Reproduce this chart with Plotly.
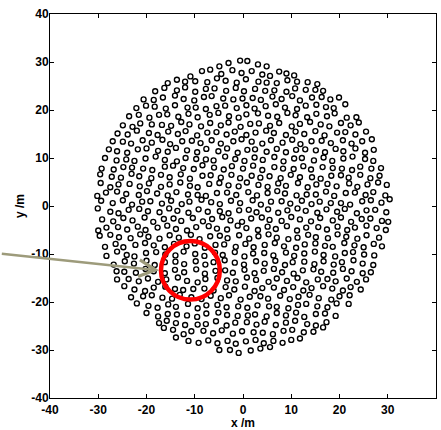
import plotly.graph_objects as go

# Field unit positions in metres, one inner list per row (north to south).
north_x = [
    [-4.9, -3.0, -0.6, 0.9, 3.1, 4.9],
    [-10.9, -8.5, -6.8, -4.5, -2.2, -0.3, 1.8, 4.0, 5.6, 7.5, 9.0, 10.6],
    [-15.6, -13.7, -12.0, -9.9, -7.4, -5.4, -3.6, -1.3, 0.6, 3.2, 4.9, 7.0, 9.2, 11.2, 13.4, 15.4],
    [-18.2, -16.3, -13.7, -12.0, -9.9, -7.7, -5.9, -3.5, -1.5, 0.2, 2.5, 4.6, 6.5, 9.0, 10.8, 13.0, 15.0, 16.6],
    [-20.6, -18.5, -16.6, -14.1, -12.3, -10.1, -8.1, -6.5, -4.1, -2.0, -0.1, 2.0, 3.7, 6.1, 8.0, 10.2, 11.8, 14.3, 16.3, 18.1, 19.9],
    [-22.1, -20.1, -18.3, -16.0, -14.1, -11.5, -9.8, -7.7, -5.5, -3.7, -1.3, 0.7, 2.4, 4.7, 6.8, 8.7, 11.2, 13.0, 15.2, 17.2, 18.8, 21.2],
    [-23.6, -21.6, -19.4, -17.4, -15.7, -13.4, -11.3, -9.4, -6.9, -5.1, -2.9, -0.9, 0.7, 3.1, 5.2, 7.1, 9.2, 10.9, 13.3, 15.2, 17.4, 19.0, 21.5, 23.5],
    [-24.9, -22.9, -21.3, -18.9, -16.8, -14.9, -12.8, -11.1, -8.7, -6.8, -4.6, -3.0, -0.5, 1.5, 3.3, 5.6, 7.5, 10.1, 11.8, 13.9, 16.1, 17.9, 20.3, 22.3, 24.0],
    [-26.0, -23.9, -22.0, -19.5, -17.7, -15.5, -13.5, -11.9, -9.5, -7.4, -5.5, -3.4, -1.7, 0.7, 2.6, 4.8, 6.4, 8.9, 10.9, 12.7, 15.0, 16.9, 19.5, 21.2, 23.3, 25.5],
    [-27.0, -24.9, -23.2, -20.8, -18.9, -16.7, -15.1, -12.6, -10.6, -8.8, -6.5, -4.6, -2.0, -0.3, 1.8, 4.0, 5.8, 8.2, 10.2, 11.9, 14.2, 16.3, 18.2, 20.7, 22.5, 24.7, 26.7],
    [-27.8, -26.1, -24.0, -21.8, -20.0, -17.6, -15.6, -13.9, -11.6, -9.5, -7.6, -5.1, -3.3, -1.1, 0.9, 2.5, 4.9, 7.0, 8.9, 11.0, 12.9, 15.1, 17.0, 19.2, 20.8, 23.3, 25.3, 27.1],
]
north_y = [
    [29.1, 29.8, 30.3, 30.2, 29.5, 29.1],
    [27.0, 28.1, 28.4, 27.5, 28.3, 27.7, 28.1, 27.4, 27.1, 28.0, 27.6, 27.2],
    [25.6, 26.3, 25.9, 26.0, 25.8, 26.6, 26.1, 25.7, 26.4, 25.9, 25.7, 25.6, 26.2, 25.9, 25.8, 25.4],
    [23.9, 24.6, 24.1, 24.7, 23.8, 24.4, 24.5, 24.0, 24.6, 23.9, 24.4, 24.0, 24.1, 23.8, 24.5, 24.2, 24.2, 24.0],
    [22.2, 22.1, 22.6, 23.0, 22.3, 22.0, 22.7, 22.9, 22.4, 22.2, 22.4, 22.5, 22.1, 22.8, 22.3, 22.9, 22.0, 22.6, 22.7, 22.2, 22.6],
    [20.4, 20.9, 20.7, 20.3, 21.0, 20.5, 20.5, 20.2, 20.8, 20.9, 20.4, 21.0, 20.3, 20.8, 21.2, 20.5, 20.2, 20.9, 21.1, 20.6, 20.4, 21.2],
    [18.7, 19.0, 18.4, 19.0, 19.1, 18.6, 19.2, 18.5, 19.0, 19.4, 18.7, 18.4, 19.1, 19.3, 18.8, 18.6, 19.4, 18.9, 18.5, 19.2, 18.7, 19.3, 18.4, 18.5],
    [16.8, 16.5, 17.2, 17.0, 16.9, 16.7, 17.5, 17.0, 16.6, 17.3, 16.8, 17.4, 16.5, 17.1, 17.2, 16.7, 17.3, 16.6, 17.1, 17.5, 17.0, 16.6, 17.3, 16.8, 17.4],
    [15.1, 14.9, 15.7, 15.2, 14.8, 15.5, 15.0, 15.6, 14.7, 15.3, 15.4, 14.9, 15.5, 14.8, 15.3, 15.7, 15.2, 14.8, 15.5, 15.0, 15.6, 14.7, 15.3, 15.4, 14.9, 15.5],
    [13.5, 13.4, 13.0, 13.7, 13.2, 13.8, 12.9, 13.5, 13.6, 13.1, 13.7, 13.0, 13.5, 13.9, 13.4, 13.0, 13.7, 13.2, 13.8, 12.9, 13.5, 13.6, 13.1, 13.7, 13.0, 13.5, 13.9],
    [11.8, 11.4, 11.1, 11.8, 12.0, 11.5, 11.3, 12.1, 11.6, 11.2, 11.9, 11.4, 12.0, 11.1, 11.7, 11.8, 11.3, 11.9, 11.2, 11.7, 11.8, 11.6, 11.2, 11.9, 11.4, 12.0, 11.1, 11.7],
]

middle_x = [
    [-28.6, -26.2, -24.2, -22.5, -20.2, -18.1, -16.2, -13.7, -11.9, -9.7, -7.7, -6.1, -3.7, -1.6, 0.3, 2.4, 4.1, 6.5, 8.4, 10.6, 12.2, 14.7, 16.7, 18.5, 20.8, 22.7, 25.3, 27.0],
    [-29.3, -26.8, -24.8, -23.0, -20.7, -18.8, -16.2, -14.5, -12.4, -10.2, -8.4, -6.0, -4.0, -2.3, 0.0, 2.1, 4.0, 6.5, 8.3, 10.5, 12.5, 14.1, 16.5, 18.6, 20.5, 22.6, 24.3, 26.6, 28.6],
    [-29.6, -27.2, -25.3, -23.1, -21.5, -19.0, -17.0, -15.2, -12.9, -11.0, -8.4, -6.7, -4.6, -2.4, -0.6, 1.8, 3.6, 5.5, 7.8, 9.9, 11.8, 14.3, 16.1, 18.3, 20.3, 21.9, 24.3, 26.4, 28.3],
    [-29.5, -27.5, -25.8, -23.5, -21.4, -19.5, -17.0, -15.2, -13.0, -11.0, -9.4, -7.0, -4.9, -3.0, -0.9, 0.8, 3.2, 5.1, 7.3, 8.9, 11.4, 13.4, 15.2, 17.5, 19.4, 22.0, 23.7, 25.8, 28.0, 29.8],
    [-30.2, -28.4, -26.1, -24.2, -21.6, -19.9, -17.8, -15.6, -13.8, -11.4, -9.4, -7.7, -5.4, -3.3, -1.4, 1.1, 2.9, 5.1, 7.1, 8.7, 11.1, 13.2, 15.1, 17.2, 18.9, 21.3, 23.2, 25.4, 27.0, 29.5],
    [-29.4, -27.0, -24.9, -23.0, -20.9, -19.2, -16.8, -14.9, -12.7, -11.1, -8.6, -6.6, -4.8, -2.5, -0.6, 2.0, 3.7, 5.8, 8.0, 9.8, 12.2, 14.2, 15.9, 18.2, 20.3, 22.2, 24.7, 26.5, 28.7, 30.4],
    [-30.1, -27.5, -25.8, -23.7, -21.5, -19.7, -17.3, -15.3, -13.6, -11.3, -9.2, -7.3, -4.8, -3.0, -0.8, 1.2, 2.8, 5.2, 7.3, 9.2, 11.3, 13.0, 15.4, 17.3, 19.5, 21.1, 23.6, 25.6, 27.4, 29.7],
    [-29.2, -26.9, -24.8, -22.9, -20.4, -18.6, -16.4, -14.4, -12.8, -10.4, -8.3, -6.4, -4.3, -2.6, -0.2, 1.7, 3.9, 5.5, 8.0, 10.0, 11.8, 14.1, 16.0, 18.6, 20.3, 22.4, 24.6, 26.4, 28.8, 30.1],
    [-30.0, -28.3, -25.9, -24.0, -21.8, -20.2, -17.7, -15.7, -13.9, -11.6, -9.7, -7.1, -5.4, -3.3, -1.1, 0.7, 3.1, 5.1, 6.8, 9.1, 11.2, 13.1, 15.6, 17.4, 19.6, 21.6, 23.2, 25.6, 27.7, 29.6],
    [-29.7, -27.5, -25.7, -23.3, -21.3, -19.6, -17.3, -15.2, -13.3, -10.8, -9.0, -6.8, -4.8, -3.2, -0.8, 1.3, 3.2, 5.3, 7.0, 9.4, 11.3, 13.5, 15.1, 17.6, 19.6, 21.4, 23.7, 25.6, 28.2],
    [-28.6, -26.4, -24.8, -22.3, -20.3, -18.5, -16.2, -14.3, -11.7, -10.0, -7.9, -5.7, -3.9, -1.5, 0.5, 2.2, 4.5, 6.6, 8.5, 11.0, 12.8, 15.0, 17.0, 18.6, 21.0, 23.1, 25.0, 27.1, 28.8],
    [-28.3, -26.1, -24.1, -22.5, -20.1, -18.0, -16.1, -14.0, -12.3, -9.9, -8.0, -5.8, -4.2, -1.7, 0.3, 2.1, 4.4, 6.3, 8.9, 10.6, 12.7, 14.9, 16.7, 19.1, 21.1, 22.8, 25.1, 27.2],
]
middle_y = [
    [10.0, 9.5, 9.7, 9.4, 9.9, 10.3, 9.6, 9.3, 10.0, 9.8, 9.7, 9.5, 10.3, 9.8, 9.4, 10.1, 9.6, 10.2, 9.3, 9.9, 10.0, 9.5, 10.1, 9.4, 9.9, 10.3, 9.8, 9.4],
    [7.8, 7.6, 8.1, 8.0, 7.8, 7.5, 8.2, 8.4, 7.9, 7.7, 8.5, 8.0, 7.6, 8.3, 7.8, 8.4, 7.5, 8.1, 7.8, 7.7, 8.3, 7.6, 8.1, 7.9, 7.8, 7.5, 8.2, 7.8, 7.9],
    [6.6, 6.1, 5.9, 6.7, 6.2, 5.8, 6.5, 6.0, 6.6, 5.7, 6.3, 6.4, 5.9, 6.5, 5.8, 6.3, 5.9, 6.2, 5.8, 6.5, 6.0, 6.0, 5.7, 6.3, 6.4, 5.9, 6.5, 5.8, 6.3],
    [4.8, 3.9, 4.5, 4.6, 4.1, 4.7, 4.0, 4.5, 4.9, 4.2, 3.9, 4.6, 4.8, 4.3, 4.1, 4.9, 4.4, 4.0, 4.7, 4.2, 4.8, 3.9, 4.5, 4.6, 4.1, 4.7, 4.0, 4.5, 4.9, 4.4],
    [2.1, 2.8, 3.0, 2.5, 2.3, 3.1, 2.6, 2.2, 2.9, 2.4, 2.3, 2.1, 2.7, 2.8, 2.3, 2.9, 2.2, 2.7, 3.1, 2.6, 2.2, 2.4, 2.4, 3.0, 2.1, 2.7, 2.8, 2.3, 2.9, 2.2],
    [1.1, 0.6, 1.2, 0.3, 0.9, 1.0, 0.5, 1.1, 0.4, 0.9, 1.3, 0.8, 0.4, 1.1, 0.6, 1.2, 0.3, 0.9, 1.0, 0.5, 1.1, 0.4, 0.9, 0.6, 0.6, 0.3, 1.0, 1.2, 0.7, 1.4],
    [-0.5, -1.2, -1.5, -0.8, -0.6, -1.1, -1.3, -0.5, -1.0, -1.4, -0.7, -1.2, -1.1, -1.5, -0.9, -0.8, -1.3, -0.7, -1.4, -0.9, -0.5, -1.0, -1.4, -0.7, -1.2, -0.6, -1.5, -0.9, -0.8, -1.3],
    [-2.8, -3.2, -2.5, -3.0, -2.4, -3.3, -2.7, -2.6, -3.1, -2.5, -3.2, -2.7, -2.3, -3.0, -3.3, -2.6, -2.4, -2.9, -3.1, -2.3, -2.8, -3.2, -2.5, -3.0, -2.4, -3.3, -2.7, -2.6, -3.1, -3.3],
    [-5.1, -4.5, -4.4, -4.9, -4.3, -5.0, -4.5, -4.1, -4.8, -5.1, -4.4, -4.2, -4.7, -4.9, -4.1, -4.6, -5.0, -4.3, -4.8, -4.2, -5.1, -4.5, -4.4, -4.9, -4.3, -5.0, -4.5, -4.1, -4.6, -5.0],
    [-6.2, -6.0, -6.5, -6.7, -5.9, -6.4, -6.8, -6.1, -6.6, -6.0, -6.9, -6.3, -6.2, -6.7, -6.1, -6.8, -6.3, -5.9, -6.6, -6.9, -6.6, -6.0, -6.5, -6.7, -5.9, -6.4, -6.8, -6.1, -6.6],
    [-8.5, -7.9, -8.6, -8.1, -7.7, -8.2, -8.6, -7.9, -8.4, -7.8, -8.7, -8.1, -8.0, -8.5, -7.9, -8.6, -8.1, -7.7, -8.4, -8.7, -8.0, -7.8, -8.3, -8.5, -7.7, -8.2, -8.6, -7.9, -8.4],
    [-10.4, -9.5, -10.2, -10.5, -9.8, -9.6, -10.1, -10.3, -9.5, -10.0, -10.4, -9.7, -10.2, -9.6, -10.5, -9.9, -9.8, -10.3, -9.7, -10.4, -9.9, -9.5, -10.2, -10.5, -9.8, -9.6, -10.1, -10.3],
]

south_x = [
    [-26.8, -24.5, -22.6, -20.0, -18.3, -16.2, -14.0, -12.2, -9.8, -7.8, -6.1, -3.8, -1.7, 0.2, 2.7, 4.5, 6.7, 8.7, 10.3, 12.7, 14.8, 16.7, 18.8, 20.5, 22.9, 24.8, 27.0],
    [-26.2, -24.6, -22.2, -20.2, -18.5, -16.2, -14.1, -12.2, -9.7, -7.9, -5.7, -3.7, -2.1, 0.3, 2.4, 4.3, 6.4, 8.1, 10.5, 12.4, 14.6, 16.2, 18.7, 20.7, 22.5, 24.8, 26.5],
    [-26.1, -23.7, -21.6, -19.7, -17.6, -15.9, -13.5, -11.6, -9.4, -7.8, -5.3, -3.3, -1.5, 0.8, 2.7, 5.3, 7.0, 9.1, 11.3, 13.1, 15.5, 17.5, 19.2, 21.5, 23.6, 25.5],
    [-24.6, -22.5, -20.3, -18.5, -16.1, -14.1, -12.4, -10.3, -8.0, -6.1, -3.6, -1.8, 0.4, 2.4, 4.0, 6.4, 8.5, 10.4, 12.5, 14.2, 16.6, 18.5, 20.7, 22.3, 24.4],
    [-23.2, -20.7, -18.9, -16.7, -14.7, -13.1, -10.7, -8.6, -6.7, -4.6, -2.9, -0.5, 1.4, 3.6, 5.2, 7.7, 9.7, 11.5, 13.8, 15.7, 18.3, 20.0, 22.1],
    [-22.0, -19.6, -17.7, -15.5, -13.9, -11.4, -9.4, -7.6, -5.3, -3.4, -1.0, 0.9, 3.0, 5.4, 7.0, 9.4, 11.4, 13.1, 15.4, 17.5, 19.4, 21.9],
    [-20.0, -17.6, -15.6, -13.7, -11.6, -9.5, -7.6, -5.1, -3.3, -1.1, 1.0, 2.5, 4.9, 7.0, 8.9, 11.0, 12.7, 15.1, 17.0, 19.2],
    [-17.4, -15.8, -13.9, -12.0, -9.4, -7.7, -5.6, -3.4, -1.6, 0.8, 2.8, 4.5, 6.8, 8.9, 10.8, 13.3, 15.1, 17.3],
    [-16.4, -14.5, -12.3, -10.7, -8.2, -6.2, -4.4, -2.1, -0.2, 2.2, 4.1, 6.2, 8.4, 10.2, 12.6, 14.6, 16.6],
    [-13.9, -11.3, -9.2, -7.2, -5.3, -3.2, -1.5, 0.6, 2.6, 4.3, 6.3, 8.2, 10.0, 11.8],
    [-4.9, -2.7, -0.9, 1.6, 3.6, 5.6],
]
south_y = [
    [-12.2, -11.5, -12.0, -11.4, -12.3, -11.7, -11.6, -12.1, -11.5, -12.2, -11.7, -11.3, -11.8, -12.2, -11.5, -12.0, -11.4, -12.3, -11.7, -11.6, -12.1, -11.5, -12.2, -11.7, -11.3, -12.0, -12.3],
    [-13.6, -13.7, -13.9, -13.1, -13.6, -14.0, -13.3, -13.8, -13.2, -14.1, -13.5, -13.4, -13.9, -13.3, -14.0, -13.5, -13.1, -13.8, -14.1, -13.4, -13.2, -13.7, -13.9, -13.1, -13.6, -14.0, -13.8],
    [-15.3, -15.2, -15.7, -15.1, -15.8, -15.3, -14.9, -15.6, -15.9, -15.2, -15.0, -15.5, -15.7, -14.9, -15.4, -15.8, -15.1, -15.6, -15.0, -15.9, -15.3, -15.2, -15.7, -15.1, -15.8, -15.3],
    [-16.7, -17.4, -17.7, -17.0, -16.8, -17.3, -17.5, -17.3, -17.2, -17.6, -16.9, -17.4, -16.8, -17.7, -17.1, -17.0, -17.5, -16.9, -17.6, -17.1, -16.7, -17.2, -17.6, -16.9, -17.4],
    [-19.0, -18.8, -18.6, -19.1, -19.3, -18.5, -19.0, -19.4, -18.7, -19.2, -18.6, -19.5, -18.9, -18.8, -19.3, -18.7, -19.4, -18.9, -18.5, -19.2, -19.5, -18.8, -18.6],
    [-20.3, -20.8, -21.2, -20.5, -21.0, -20.4, -21.3, -20.7, -20.6, -21.1, -20.9, -21.2, -20.7, -20.9, -21.0, -21.3, -20.6, -20.4, -20.9, -21.1, -20.3, -20.4],
    [-22.3, -23.0, -22.5, -22.6, -22.8, -23.1, -22.4, -22.2, -22.7, -22.9, -22.8, -22.6, -23.0, -22.3, -22.8, -22.2, -23.1, -22.5, -22.4, -22.9],
    [-24.4, -23.9, -24.4, -24.8, -24.7, -24.6, -24.0, -24.9, -24.3, -24.2, -24.7, -24.1, -24.8, -24.3, -23.9, -24.6, -24.9, -24.2],
    [-25.4, -25.8, -26.7, -26.1, -26.0, -26.5, -25.9, -26.6, -26.1, -26.3, -26.4, -26.7, -26.0, -25.8, -26.3, -26.2, -25.3],
    [-27.4, -28.1, -28.5, -28.0, -28.6, -28.1, -28.7, -28.2, -27.9, -28.6, -28.1, -28.5, -27.9, -27.6],
    [-30.0, -30.0, -30.6, -30.1, -29.7, -29.4],
]

# Highlighted sub-area and the pointer leading to it
zone_center = (-10.9, -13.4)
zone_radius = 6.1
pointer_start = (-50.3, -9.9)
pointer_tip = (-17.4, -13.4)

ticks = [-40, -30, -20, -10, 0, 10, 20, 30, 40]
tick_labels = ["-40", "-30", "-20", "-10", "0", "10", "20", "30", "40"]

x_m, y_m = [], []
for xs_band, ys_band in ((north_x, north_y), (middle_x, middle_y), (south_x, south_y)):
    for row_x, row_y in zip(xs_band, ys_band):
        if len(row_x) != len(row_y):
            raise ValueError("row length mismatch")
        x_m.extend(row_x)
        y_m.extend(row_y)

font_family = "Liberation Sans, Arial, Helvetica, sans-serif"

fig = go.Figure()
fig.add_trace(go.Scatter(
    x=x_m, y=y_m, mode="markers",
    marker=dict(symbol="circle-open", size=5, color="black", line=dict(width=1.35, color="black")),
    hoverinfo="skip", showlegend=False,
))

cx, cy = zone_center
fig.add_shape(
    type="circle", xref="x", yref="y",
    x0=cx - zone_radius, x1=cx + zone_radius, y0=cy - zone_radius, y1=cy + zone_radius,
    line=dict(color="#ff0000", width=4.5), layer="above",
)

fig.add_annotation(
    x=pointer_tip[0], y=pointer_tip[1], ax=pointer_start[0], ay=pointer_start[1],
    xref="x", yref="y", axref="x", ayref="y", text="", showarrow=True,
    arrowhead=5, arrowsize=1.3, arrowwidth=2.5, arrowcolor="#9d9b7b", standoff=0,
)

axis_common = dict(
    range=[-40, 40], tickmode="array", tickvals=ticks, ticktext=tick_labels,
    ticks="inside", ticklen=4, tickwidth=1, tickcolor="black",
    showline=True, linecolor="black", linewidth=1, mirror="ticks",
    showgrid=False, zeroline=False,
    tickfont=dict(family=font_family, size=12, color="black", weight="bold"),
)

fig.update_layout(
    width=441, height=430,
    margin=dict(l=50, r=4, t=14, b=30),
    paper_bgcolor="white", plot_bgcolor="white",
    xaxis=dict(axis_common, ticklabelstandoff=1,
               title=dict(text="x /m", standoff=0,
                          font=dict(family=font_family, size=12, color="black", weight="bold"))),
    yaxis=dict(axis_common, ticklabelstandoff=-2,
               title=dict(text="y /m", standoff=4,
                          font=dict(family=font_family, size=12, color="black", weight="bold"))),
)

fig.write_html("out.html")
